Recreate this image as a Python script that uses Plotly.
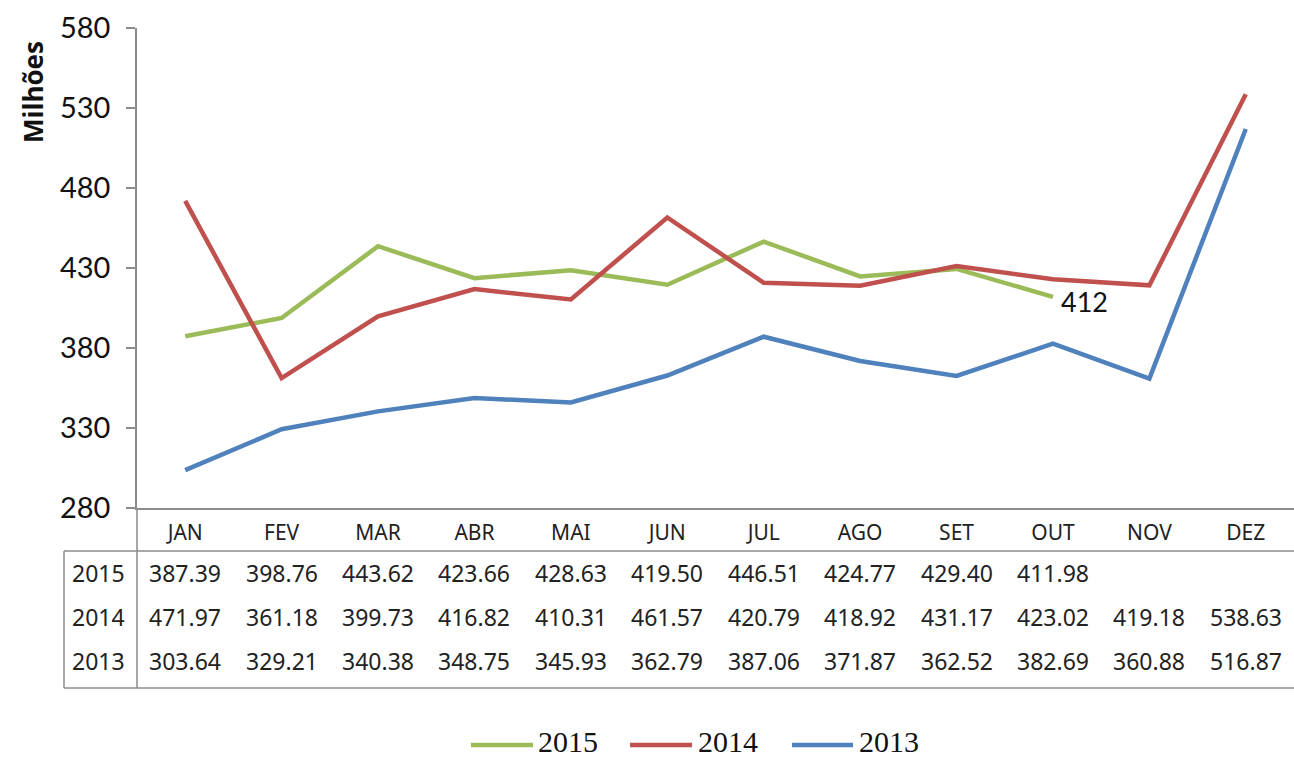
import plotly.graph_objects as go

months = ["JAN", "FEV", "MAR", "ABR", "MAI", "JUN", "JUL", "AGO", "SET", "OUT", "NOV", "DEZ"]
years = ["2015", "2014", "2013"]
v2015 = [387.39, 398.76, 443.62, 423.66, 428.63, 419.50, 446.51, 424.77, 429.40, 411.98]
v2014 = [471.97, 361.18, 399.73, 416.82, 410.31, 461.57, 420.79, 418.92, 431.17, 423.02, 419.18, 538.63]
v2013 = [303.64, 329.21, 340.38, 348.75, 345.93, 362.79, 387.06, 371.87, 362.52, 382.69, 360.88, 516.87]
colors = {"2015": "#9BBB59", "2014": "#C0504D", "2013": "#4F81BD"}
series = {"2015": v2015, "2014": v2014, "2013": v2013}
y_ticks = [280, 330, 380, 430, 480, 530, 580]

W, H = 1294, 759
L, R, T, B = 137, 0, 28, 251
PW, PH = W - L - R, H - T - B


def px_x(px):
    return (px - L) / PW


def px_y(py):
    return (H - B - py) / PH


fig = go.Figure()
for yr in ["2015", "2014", "2013"]:
    vals = series[yr]
    fig.add_trace(go.Scatter(
        x=months[:len(vals)], y=vals, mode="lines", name=yr,
        line=dict(color=colors[yr], width=4.5), showlegend=False,
    ))

anns = []
shapes = []
gray = "#8C8C8C"

# data label at last 2015 point
anns.append(dict(x=months[len(v2015) - 1], y=v2015[-1], xref="x", yref="y",
                 text=str(round(v2015[-1])), showarrow=False, xanchor="left",
                 yanchor="middle", xshift=6, yshift=-5,
                 font=dict(family="Lato", size=27, color="#111111")))

# axis title
anns.append(dict(x=px_x(33), y=px_y(92), xref="paper", yref="paper", text="<b>Milhões</b>",
                 textangle=-90, showarrow=False, xanchor="center", yanchor="middle",
                 font=dict(family="Open Sans", size=26, color="#111111")))

# data table
row_py = [573, 617, 661]
tfont = dict(family="Noto Sans", size=23, color="#222222")
for yr, py in zip(years, row_py):
    anns.append(dict(x=px_x(98), y=px_y(py), xref="paper", yref="paper", text=yr,
                     showarrow=False, xanchor="center", yanchor="middle", font=tfont))
    for m, v in zip(months, series[yr]):
        anns.append(dict(x=m, y=px_y(py), xref="x", yref="paper", text=f"{v:.2f}",
                         showarrow=False, xanchor="center", yanchor="middle", font=tfont))

line = dict(color=gray, width=1.5)
shapes.append(dict(type="line", xref="paper", yref="paper", x0=px_x(64), x1=1,
                   y0=px_y(551), y1=px_y(551), line=line))
shapes.append(dict(type="line", xref="paper", yref="paper", x0=px_x(64), x1=1,
                   y0=px_y(688), y1=px_y(688), line=line))
shapes.append(dict(type="line", xref="paper", yref="paper", x0=px_x(64), x1=px_x(64),
                   y0=px_y(551), y1=px_y(688), line=line))
shapes.append(dict(type="line", xref="paper", yref="paper", x0=0, x1=0,
                   y0=0, y1=px_y(688), line=line))

# custom legend
leg = [("2015", 471, 533, 536), ("2014", 630, 692, 696), ("2013", 792, 853, 857)]
for yr, x0, x1, xt in leg:
    shapes.append(dict(type="line", xref="paper", yref="paper", x0=px_x(x0), x1=px_x(x1),
                       y0=px_y(745), y1=px_y(745), line=dict(color=colors[yr], width=4.5)))
    anns.append(dict(x=px_x(xt), y=px_y(741), xref="paper", yref="paper", text=yr,
                     showarrow=False, xanchor="left", yanchor="middle",
                     font=dict(family="Liberation Serif", size=30, color="#111111")))

fig.update_layout(
    width=W, height=H,
    margin=dict(l=L, r=R, t=T, b=B, pad=0),
    plot_bgcolor="white", paper_bgcolor="white",
    annotations=anns, shapes=shapes, showlegend=False,
    xaxis=dict(type="category", categoryorder="array", categoryarray=months,
               range=[-0.5, 11.5], showgrid=False, showline=True, linecolor=gray,
               linewidth=1.5, ticks="", ticklabelstandoff=5,
               tickfont=dict(family="Noto Sans", size=21, color="#222222"), zeroline=False),
    yaxis=dict(range=[280, 580], tickvals=y_ticks, showgrid=False, showline=True,
               linecolor=gray, linewidth=1.5, ticks="outside", ticklen=9, tickcolor=gray,
               tickwidth=1.5, ticklabelstandoff=10, zeroline=False,
               tickfont=dict(family="Lato", size=29, color="#111111")),
)

fig.write_html("out.html", config={"displayModeBar": False},
               post_script="document.body.style.margin='0px';document.body.style.overflow='hidden';")
